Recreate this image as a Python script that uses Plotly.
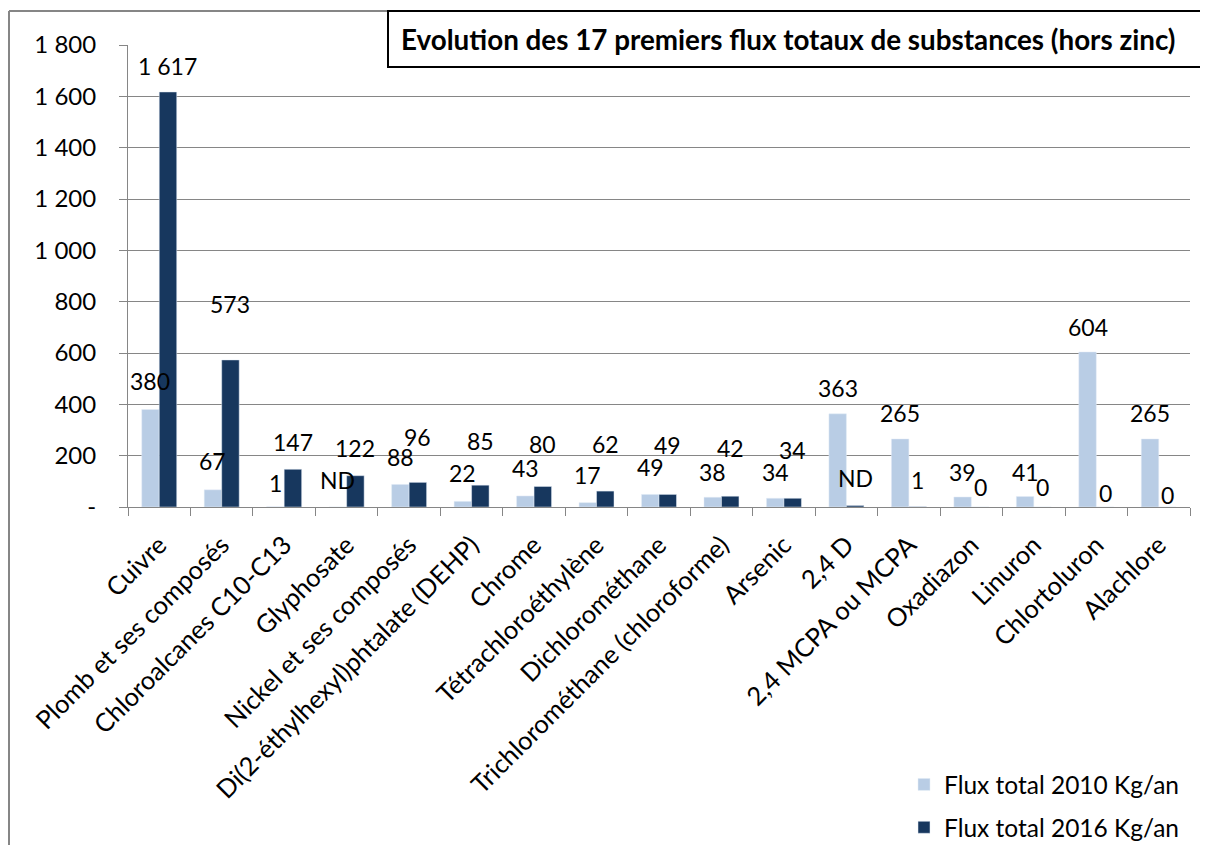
import plotly.graph_objects as go

categories = ["Cuivre", "Plomb et ses composés", "Chloroalcanes C10-C13", "Glyphosate",
              "Nickel et ses composés", "Di(2-éthylhexyl)phtalate (DEHP)", "Chrome",
              "Tétrachloroéthylène", "Dichlorométhane", "Trichlorométhane (chloroforme)",
              "Arsenic", "2,4 D", "2,4 MCPA ou MCPA", "Oxadiazon", "Linuron",
              "Chlortoluron", "Alachlore"]
flux_2010 = [380, 67, 1, 0, 88, 22, 43, 17, 49, 38, 34, 363, 265, 39, 41, 604, 265]
flux_2016 = [1617, 573, 147, 122, 96, 85, 80, 62, 49, 42, 34, 6, 1, 0, 0, 0, 0]
labels_2010 = ["380", "67", "1", "ND", "88", "22", "43", "17", "49", "38", "34", "363",
               "265", "39", "41", "604", "265"]
labels_2016 = ["1 617", "573", "147", "122", "96", "85", "80", "62", "49", "42", "34", "ND",
               "1", "0", "0", "0", "0"]
y_ticks = [0, 200, 400, 600, 800, 1000, 1200, 1400, 1600, 1800]
y_tick_labels = ["-", "200", "400", "600", "800", "1 000", "1 200", "1 400", "1 600", "1 800"]

# label vertical offsets (px) as placed in the original chart
off_2010 = [28, 29, 24, 27, 27, 28, 28, 28, 27, 25, 26, 26, 26, 25, 24, 25, 26]
off_2016 = [26, 56, 27, 28, 45, 44, 42, 47, 49, 48, 48, 27, 27, 20, 20, 14, 12]

PAGE = 8  # default page body margin
W, H = 1208, 845
L, R, T, B = 128, 1190, 45, 507
FONT = "Lato"
LIGHT = "#B9CDE5"
DARK = "#17375E"
GRID = "#868686"


def xp(px):
    return (px - L) / (R - L)


def yp(py):
    return (B - py) / (B - T)


fig = go.Figure()
fig.add_trace(go.Bar(x=categories, y=flux_2010, name="Flux total 2010 Kg/an",
                     marker_color=LIGHT, legendgroup="a"))
fig.add_trace(go.Bar(x=categories, y=flux_2016, name="Flux total 2016 Kg/an",
                     marker_color=DARK, legendgroup="b"))

cat_w = (R - L) / len(categories)
bargap = 0.44
bar_w = cat_w * (1 - bargap) / 2

annotations = []
for i, c in enumerate(categories):
    annotations.append(dict(x=c, y=flux_2010[i], text=labels_2010[i], showarrow=False,
                            xshift=-bar_w / 2, yshift=off_2010[i], yanchor="middle",
                            font=dict(family=FONT, size=23, color="black")))
    annotations.append(dict(x=c, y=flux_2016[i], text=labels_2016[i], showarrow=False,
                            xshift=bar_w / 2, yshift=off_2016[i], yanchor="middle",
                            font=dict(family=FONT, size=23, color="black")))

# title
annotations.append(dict(xref="paper", yref="paper", x=xp(789), y=yp(40),
                        text="<b>Evolution des 17 premiers flux totaux de substances (hors zinc)</b>",
                        showarrow=False, xanchor="center", yanchor="middle",
                        font=dict(family=FONT, size=27.8, color="black")))

shapes = [
    # outer chart border (left and top)
    dict(type="line", xref="paper", yref="paper", x0=xp(9), x1=xp(9), y0=yp(11), y1=yp(850),
         line=dict(color=GRID, width=2)),
    dict(type="line", xref="paper", yref="paper", x0=xp(9), x1=xp(388), y0=yp(11), y1=yp(11),
         line=dict(color=GRID, width=2)),
    # title box
    dict(type="rect", xref="paper", yref="paper", x0=xp(388), x1=xp(1215), y0=yp(67), y1=yp(11),
         line=dict(color="black", width=2), fillcolor="white", layer="above"),
]

fig.update_layout(
    width=W - PAGE, height=H - PAGE,
    margin=dict(l=L - PAGE, r=W - R, t=T - PAGE, b=H - B, autoexpand=False),
    paper_bgcolor="white", plot_bgcolor="white",
    barmode="group", bargap=bargap, bargroupgap=0,
    font=dict(family=FONT, size=24, color="black"),
    showlegend=True,
    legend=dict(x=xp(904), y=yp(762), xanchor="left", yanchor="top",
                font=dict(family=FONT, size=24.5, color="black"),
                tracegroupgap=8, bgcolor="rgba(0,0,0,0)", itemwidth=30),
    annotations=annotations,
    shapes=shapes,
)
fig.update_xaxes(type="category", tickangle=-45, showline=True, linecolor=GRID, linewidth=1,
                 ticks="outside", tickson="boundaries", ticklen=8, tickcolor=GRID,
                 showgrid=False, tickfont=dict(family=FONT, size=25.5, color="black"),
                 ticklabelstandoff=12)
fig.update_yaxes(range=[0, 1800], tickvals=y_ticks, ticktext=y_tick_labels,
                 showline=True, linecolor=GRID, linewidth=1, ticks="outside", ticklen=8,
                 tickcolor=GRID, showgrid=True, gridcolor=GRID, gridwidth=1, zeroline=False,
                 tickfont=dict(family=FONT, size=24, color="black"), ticklabelstandoff=18)

fig.write_html("out.html")
